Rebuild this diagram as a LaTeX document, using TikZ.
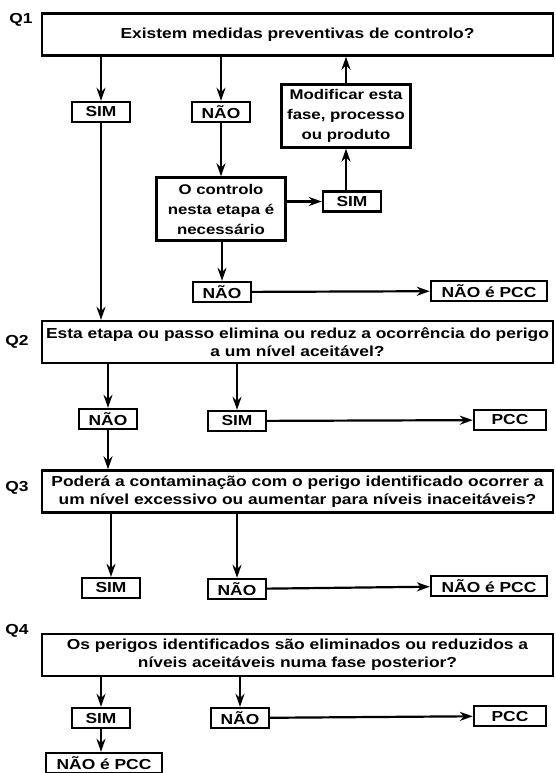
\documentclass[tikz,border=0pt]{standalone}
\usepackage{fontspec}
\setmainfont{Liberation Sans}[FakeStretch=1.2]
\usetikzlibrary{arrows.meta}

\begin{document}
\begin{tikzpicture}[x=1pt,y=-1pt,>={Stealth[length=13pt,width=9pt]},
  font=\bfseries\fontsize{14.5}{18}\selectfont,
  qbox/.style={draw,line width=2.4pt,minimum width=511pt,minimum height=42pt,align=center,inner sep=0pt},
  ans/.style={draw,line width=2.4pt,minimum width=58pt,minimum height=20pt,inner sep=0pt},
  res/.style={ans,minimum width=116pt},
  tall/.style={draw,line width=2.4pt,minimum width=129pt,minimum height=63pt,align=center,inner sep=0pt,font=\bfseries\fontsize{14}{20}\selectfont},
  flow/.style={->,line width=2.2pt}]
\useasboundingbox (0,0) rectangle (555,773);
\fill[white] (0,0) rectangle (555,773);
% Q1
\node[qbox] (q1) at (297.5,34.5) {Existem medidas preventivas de controlo?};
\node (l1) at (21,20) {Q1};
\node[ans] (sim1) at (101,112) {SIM};
\node[ans] (nao1) at (221,112) {NÃO};
\node[tall] (ctrl) at (221,209) {O controlo\\nesta etapa é\\necessário};
\node[ans] (sim2) at (352,201.5) {SIM};
\node[tall] (mod) at (346,116) {Modificar esta\\fase, processo\\ou produto};
\node[ans] (nao2) at (222,292) {NÃO};
\node[res] (npcc1) at (489,291) {NÃO é PCC};
\draw[flow] (sim1.north |- q1.south) -- (sim1.north);
\draw[flow] (nao1.north |- q1.south) -- (nao1.north);
\draw[flow] (nao1) -- (ctrl);
\draw[flow] (ctrl.east |- sim2) -- (sim2);
\draw[flow] (sim2.north -| mod) -- (mod);
\draw[flow] (mod) -- (mod |- q1.south);
\draw[flow] (ctrl.south -| nao2) -- (nao2);
\draw[flow] (nao2) -- (npcc1);
% Q2
\node[qbox] (q2) at (297.5,342) {Esta etapa ou passo elimina ou reduz a ocorrência do perigo\\a um nível aceitável?};
\node (l2) at (17,342) {Q2};
\draw[flow] (sim1) -- (sim1 |- q2.north);
\node[ans] (nao3) at (108,419) {NÃO};
\node[ans] (sim3) at (237,421) {SIM};
\node[ans,minimum width=72pt] (pcc1) at (510,420) {PCC};
\draw[flow] (nao3.north |- q2.south) -- (nao3.north);
\draw[flow] (sim3.north |- q2.south) -- (sim3.north);
\draw[flow] (sim3) -- (pcc1);
% Q3
\node[qbox] (q3) at (297.5,491.5) {Poderá a contaminação com o perigo identificado ocorrer a\\um nível excessivo ou aumentar para níveis inaceitáveis?};
\node (l3) at (17,488) {Q3};
\draw[flow] (nao3) -- (nao3 |- q3.north);
\node[ans] (sim4) at (111,588) {SIM};
\node[ans] (nao4) at (237,589) {NÃO};
\node[res] (npcc2) at (489,586) {NÃO é PCC};
\draw[flow] (sim4.north |- q3.south) -- (sim4.north);
\draw[flow] (nao4.north |- q3.south) -- (nao4.north);
\draw[flow] (nao4) -- (npcc2);
% Q4
\node[qbox] (q4) at (297.5,655) {Os perigos identificados são eliminados ou reduzidos a\\níveis aceitáveis numa fase posterior?};
\node (l4) at (17,631) {Q4};
\node[ans] (sim5) at (101,718) {SIM};
\node[ans] (nao5) at (240,718) {NÃO};
\node[ans,minimum width=72pt] (pcc2) at (510,716) {PCC};
\node[res] (npcc3) at (104,763) {NÃO é PCC};
\draw[flow] (sim5.north |- q4.south) -- (sim5.north);
\draw[flow] (nao5.north |- q4.south) -- (nao5.north);
\draw[flow] (nao5) -- (pcc2);
\draw[flow] (sim5) -- (sim5 |- npcc3.north);
\end{tikzpicture}
\end{document}
